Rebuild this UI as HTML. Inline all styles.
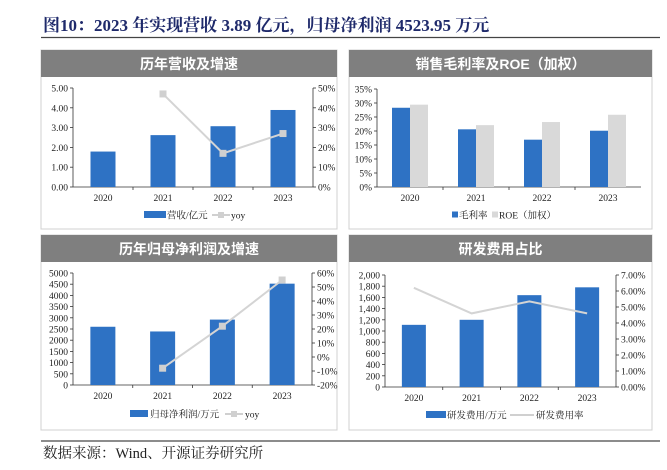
<!DOCTYPE html>
<html><head><meta charset="utf-8">
<style>
body{margin:0;background:#fff;width:667px;height:470px;overflow:hidden;font-family:"Liberation Serif","Noto Serif CJK SC",serif;}
svg{position:absolute;left:0;top:0}
</style></head><body>
<svg id="s" width="667" height="470" xmlns="http://www.w3.org/2000/svg">
<text x="43" y="31" font-size="17" font-weight="bold" fill="#1f2a6b" font-family="Liberation Serif,Noto Serif CJK SC,serif">图10：2023 年实现营收 3.89 亿元，归母净利润 4523.95 万元</text>
<line x1="41" y1="37.5" x2="660" y2="37.5" stroke="#444" stroke-width="1.2"/>
<line x1="41" y1="441" x2="660" y2="441" stroke="#666" stroke-width="1.5"/>
<text x="43" y="458" font-size="14.5" fill="#222" font-family="Liberation Serif,Noto Serif CJK SC,serif">数据来源：Wind、开源证券研究所</text>
</svg>
<script>
const years=["2020","2021","2022","2023"];
const revenue=[1.79,2.62,3.07,3.89];
const revYoy=[null,47,17,27];
const revTicks=["0.00","1.00","2.00","3.00","4.00","5.00"];
const revYoyTicks=["0%","10%","20%","30%","40%","50%"];
const grossMargin=[28.3,20.6,16.9,20.1];
const roe=[29.4,22.1,23.2,25.8];
const marginTicks=["0%","5%","10%","15%","20%","25%","30%","35%"];
const netProfit=[2600,2390,2920,4524];
const npYoy=[null,-8,22,55];
const npTicks=["0","500","1000","1500","2000","2500","3000","3500","4000","4500","5000"];
const npYoyTicks=["-20%","-10%","0%","10%","20%","30%","40%","50%","60%"];
const rdExpense=[1110,1200,1640,1780];
const rdRate=[6.2,4.6,5.35,4.6];
const rdTicks=["0","200","400","600","800","1,000","1,200","1,400","1,600","1,800","2,000"];
const rdRateTicks=["0.00%","1.00%","2.00%","3.00%","4.00%","5.00%","6.00%","7.00%"];

const S=document.getElementById('s');const NS="http://www.w3.org/2000/svg";
function mk(t,a,txt){const e=document.createElementNS(NS,t);for(const k in a)e.setAttribute(k,a[k]);if(txt!=null)e.textContent=txt;S.appendChild(e);return e;}
const BLUE="#2e72c4",GREY="#d9d9d9",F="Liberation Serif,Noto Serif CJK SC,serif";
function panel(x,y,w,h,title,n){
 let e=mk('rect',{x:x,y:y,width:w,height:h,fill:'#fff',stroke:'#d0d0d0','stroke-width':1});
 
 e=mk('rect',{x:x,y:y,width:w,height:27,fill:'#7f7f7f'});
 
 e=mk('text',{x:x+w/2,y:y+19,'text-anchor':'middle','font-size':14,'font-weight':'bold',fill:'#fff','font-family':'Liberation Sans,Noto Sans CJK SC,sans-serif'},title);
 
}
function axis(o){
 const sy=v=>o.b-(v-o.min)/(o.max-o.min)*(o.b-o.t);
 const ry=v=>o.b-(v-o.rmin)/(o.rmax-o.rmin)*(o.b-o.t);
 let e=mk('line',{x1:o.l,y1:o.t,x2:o.l,y2:o.b,stroke:'#333','stroke-width':0.8});
 
 e=mk('line',{x1:o.l,y1:o.b,x2:o.r,y2:o.b,stroke:'#333','stroke-width':0.8});
 
 const step=(o.max-o.min)/(o.ticks.length-1);
 o.ticks.forEach((t,i)=>{const y=sy(o.min+i*step);
  mk('line',{x1:o.l-3,y1:y,x2:o.l,y2:y,stroke:'#333','stroke-width':0.8});
  e=mk('text',{x:o.l-5,y:y+3.5,'text-anchor':'end','font-size':9.5,fill:'#222','font-family':F},t);
  });
 if(o.rticks){
  e=mk('line',{x1:o.r,y1:o.t,x2:o.r,y2:o.b,stroke:'#333','stroke-width':0.8});
  
  const rs=(o.rmax-o.rmin)/(o.rticks.length-1);
  o.rticks.forEach((t,i)=>{const y=ry(o.rmin+i*rs);
   mk('line',{x1:o.r,y1:y,x2:o.r+3,y2:y,stroke:'#333','stroke-width':0.8});
   e=mk('text',{x:o.r+5,y:y+3.5,'font-size':9.5,fill:'#222','font-family':F},t);
   });
 }
 const cw=(o.r-o.l)/years.length;
 const cx=i=>o.l+cw*(i+0.5);
 for(let i=1;i<years.length;i++)mk('line',{x1:o.l+cw*i,y1:o.b,x2:o.l+cw*i,y2:o.b+3,stroke:'#333','stroke-width':0.8});
 years.forEach((yr,i)=>{e=mk('text',{x:cx(i),y:o.b+14,'text-anchor':'middle','font-size':9.5,fill:'#222','font-family':F},yr);
  });
 return {sy,ry,cx,cw};
}
function bars(a,vals,off,w,col,n){vals.forEach((v,i)=>{const y=a.sy(v);
 const e=mk('rect',{x:a.cx(i)+off,y:y,width:w,height:a.sy(0)-y,fill:col});
 });}
function line(a,vals,n,markers){const pts=[];vals.forEach((v,i)=>{if(v!=null)pts.push([a.cx(i),a.ry(v)]);});
 let e=mk('polyline',{points:pts.map(p=>p.join(',')).join(' '),fill:'none',stroke:'#d4d4d4','stroke-width':2});
 
 if(markers)pts.forEach(p=>{e=mk('rect',{x:p[0]-3.5,y:p[1]-3.5,width:7,height:7,fill:'#d0d0d0'});
  });}
function legend(items,y){items.forEach(it=>{let e;
 if(it.t=='bar')e=mk('rect',{x:it.x,y:y-4,width:it.w,height:7,fill:it.c});
 else if(it.t=='sq')e=mk('rect',{x:it.x,y:y-3.5,width:6,height:6,fill:it.c});
 else {e=mk('line',{x1:it.x,y1:y,x2:it.x+it.w,y2:y,stroke:'#d0d0d0','stroke-width':2});
  if(it.m)mk('rect',{x:it.x+it.w/2-3,y:y-3,width:6,height:6,fill:'#d0d0d0'});}
 
 e=mk('text',{x:it.tx,y:y+3.5,'font-size':9.5,fill:'#222','font-family':F},it.l);
 });}

panel(41,50,296,179,'历年营收及增速','revenue');
let a=axis({l:73,r:313,t:88,b:187,ticks:revTicks,min:0,max:5,rticks:revYoyTicks,rmin:0,rmax:50,n:'revenue'});
bars(a,revenue,-12.5,25,BLUE,'revenue-bar');line(a,revYoy,'revenue-yoy',true);
legend([{t:'bar',x:144,w:22,c:BLUE,tx:167,l:'营收/亿元'},{t:'ln',x:212,w:18,m:true,tx:231,l:'yoy'}],215);
panel(349,50,303,179,'销售毛利率及ROE（加权）','margin');
a=axis({l:377,r:641,t:89,b:187,ticks:marginTicks,min:0,max:35,n:'margin'});
bars(a,grossMargin,-18,18,BLUE,'gross-margin-bar');bars(a,roe,0,18,GREY,'roe-bar');
legend([{t:'sq',x:452,c:BLUE,tx:459,l:'毛利率'},{t:'sq',x:492,c:GREY,tx:499,l:'ROE（加权）'}],215);
panel(41,235,296,195,'历年归母净利润及增速','net-profit');
a=axis({l:73,r:312,t:273,b:385,ticks:npTicks,min:0,max:5000,rticks:npYoyTicks,rmin:-20,rmax:60,n:'net-profit'});
bars(a,netProfit,-12.5,25,BLUE,'net-profit-bar');line(a,npYoy,'net-profit-yoy',true);
legend([{t:'bar',x:130,w:18,c:BLUE,tx:150,l:'归母净利润/万元'},{t:'ln',x:225,w:18,m:true,tx:245,l:'yoy'}],414);
panel(349,235,303,195,'研发费用占比','rd');
a=axis({l:385,r:616,t:275,b:387,ticks:rdTicks,min:0,max:2000,rticks:rdRateTicks,rmin:0,rmax:7,n:'rd'});
bars(a,rdExpense,-12,24,BLUE,'rd-expense-bar');line(a,rdRate,'rd-rate',false);
legend([{t:'bar',x:426,w:20,c:BLUE,tx:447,l:'研发费用/万元'},{t:'ln',x:510,w:24,m:false,tx:536,l:'研发费用率'}],415);
</script>
</body></html>
